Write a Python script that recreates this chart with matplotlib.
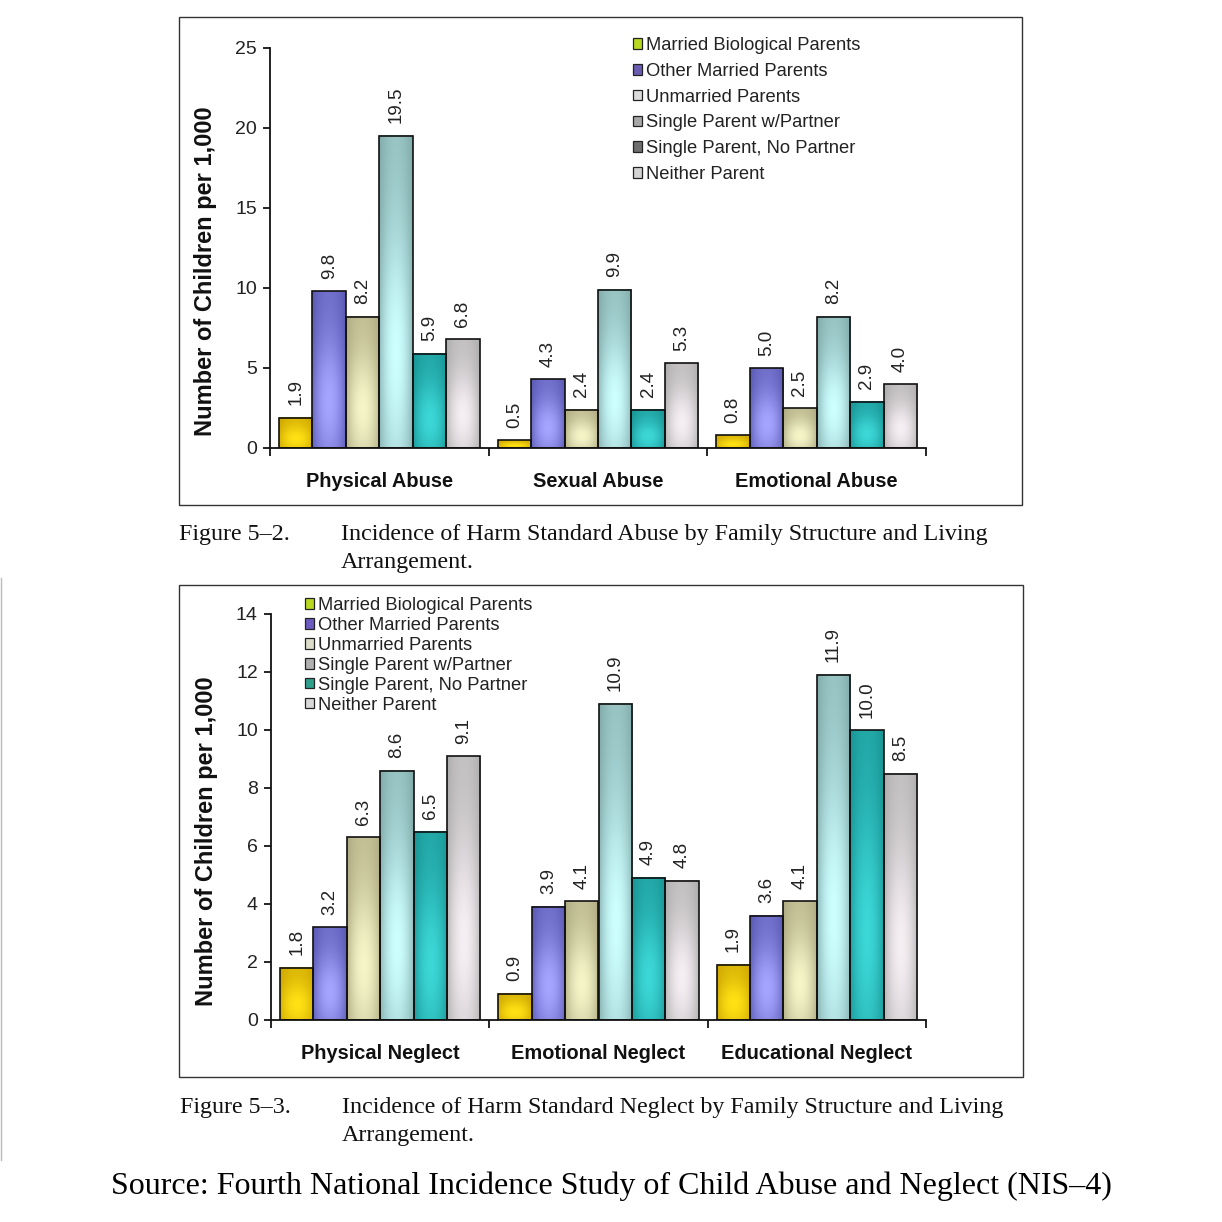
import numpy as np
import matplotlib
matplotlib.use("Agg")
import matplotlib.pyplot as plt
from matplotlib.patches import Rectangle, Patch
from matplotlib.lines import Line2D

# ---- data ----
series = ['Married Biological Parents', 'Other Married Parents', 'Unmarried Parents',
          'Single Parent w/Partner', 'Single Parent, No Partner', 'Neither Parent']

abuse_groups = ['Physical Abuse', 'Sexual Abuse', 'Emotional Abuse']
abuse_mbp = [1.9, 0.5, 0.8]
abuse_omp = [9.8, 4.3, 5.0]
abuse_up = [8.2, 2.4, 2.5]
abuse_spwp = [19.5, 9.9, 8.2]
abuse_spnp = [5.9, 2.4, 2.9]
abuse_np = [6.8, 5.3, 4.0]

neglect_groups = ['Physical Neglect', 'Emotional Neglect', 'Educational Neglect']
neglect_mbp = [1.8, 0.9, 1.9]
neglect_omp = [3.2, 3.9, 3.6]
neglect_up = [6.3, 4.1, 4.1]
neglect_spwp = [8.6, 10.9, 11.9]
neglect_spnp = [6.5, 4.9, 10.0]
neglect_np = [9.1, 4.8, 8.5]

# ---- styles ----
W = 1222.0
bar_dark = [(200, 160, 0), (80, 80, 170), (165, 160, 120),
            (120, 160, 160), (20, 140, 140), (165, 165, 165)]
bar_light = [(255, 225, 20), (165, 165, 255), (245, 245, 200),
             (205, 255, 255), (60, 215, 215), (245, 238, 242)]
legend_top_colors = ['#b8d820', '#6a5cb0', '#dcdcdc', '#a8a8a8', '#6e6e6e', '#d4d4d4']
legend_bot_colors = ['#b8d820', '#6a5cc0', '#dcdcc8', '#b0b0b0', '#2fa08c', '#d8d8d8']

SANS = 'Liberation Sans'
SERIF = 'Liberation Serif'


def px(x, y):
    return x / W, 1 - y / W


def shade_bar(ax, patch, dark, light):
    x0, y0 = patch.get_x(), patch.get_y()
    w, h = patch.get_width(), patch.get_height()
    xs = np.linspace(0, 1, 32)
    ys = np.linspace(0, 1, 64)
    hx = 1 - np.abs(2 * xs - 1) ** 2 * 0.7
    vy = 0.35 + 0.65 * np.exp(-((ys - 0.3) / 0.4) ** 2)
    t = np.outer(vy, hx)[..., None]
    d = np.array(dark) / 255.0
    l = np.array(light) / 255.0
    img = d + (l - d) * t
    ax.imshow(img, extent=(x0, x0 + w, y0, y0 + h), origin='lower', aspect='auto',
              zorder=2, clip_path=patch, interpolation='bilinear')


def draw_chart(ax, groups, data, ymax, ystep, legend_colors, legend_anchor, labelspacing, ylab_y):
    bw = 0.153
    x = np.arange(len(groups)) + 0.5
    for i, vals in enumerate(data):
        pos = x + (i - 2.5) * bw
        bars = ax.bar(pos, vals, width=bw, color=np.array(bar_dark[i]) / 255.0, zorder=1)
        for b in bars:
            shade_bar(ax, b, bar_dark[i], bar_light[i])
        ax.bar(pos, vals, width=bw, fill=False, edgecolor='#111111', linewidth=1.2, zorder=3)
        for p, v in zip(pos, vals):
            ax.annotate(f'{v:.1f}', xy=(p, v), xytext=(0, 9), textcoords='offset points',
                        rotation=90, ha='center', va='bottom', fontsize=13.5,
                        family=SANS, color='#222222')

    ax.set_xlim(0, len(groups))
    ax.set_ylim(0, ymax)
    ax.set_yticks(np.arange(0, ymax + 0.1, ystep))
    ax.set_xticks(np.arange(0, len(groups) + 1))
    ax.set_xticklabels([])
    ax.set_xticks(x, groups, minor=True)
    ax.tick_params(axis='x', which='minor', length=0, pad=17)
    ax.tick_params(axis='x', which='major', direction='out', length=6, width=1.2)
    ax.tick_params(axis='y', direction='out', length=5, width=1.2, pad=4.5,
                   labelsize=14, labelcolor='#222222')
    for lab in ax.get_xticklabels(minor=True):
        lab.set_fontsize(14.4)
        lab.set_fontweight('bold')
        lab.set_family(SANS)
        lab.set_color('#111111')
    for lab in ax.get_yticklabels():
        lab.set_family(SANS)
    for s in ['top', 'right']:
        ax.spines[s].set_visible(False)
    for s in ['left', 'bottom']:
        ax.spines[s].set_linewidth(1.3)
        ax.spines[s].set_color('#111111')
    ax.set_facecolor('white')

    ax.set_ylabel('Number of Children per 1,000', fontsize=17, fontweight='bold',
                  family=SANS, color='#111111')
    ax.yaxis.set_label_coords(-0.081, ylab_y)

    handles = [Patch(facecolor=c, edgecolor='#222222', linewidth=0.9) for c in legend_colors]
    ax.figure.legend(handles, series, loc='upper left', bbox_to_anchor=legend_anchor,
                     bbox_transform=ax.figure.transFigure, frameon=False,
                     prop={'family': SANS, 'size': 13.2}, handlelength=0.5, handleheight=0.5,
                     handletextpad=0.2, labelspacing=labelspacing, borderpad=0,
                     borderaxespad=0, labelcolor='#222222')


fig = plt.figure(figsize=(12.22, 12.22), dpi=100)
fig.patch.set_facecolor('white')

# boxes around the two charts
for (x0, y0, x1, y1) in [(179, 17, 1022, 505), (179, 585, 1023, 1077)]:
    fx, fy = px(x0, y1)
    fig.add_artist(Rectangle((fx, fy), (x1 - x0) / W, (y1 - y0) / W, transform=fig.transFigure,
                             fill=False, edgecolor='#333333', linewidth=1.0))
fig.add_artist(Line2D([1 / W, 1 / W], [1 - 578 / W, 1 - 1160 / W], transform=fig.transFigure,
                      color='#bbbbbb', linewidth=1.0))

ax1 = fig.add_axes([270 / W, 1 - 448 / W, 656 / W, 400 / W])
draw_chart(ax1, abuse_groups,
           [abuse_mbp, abuse_omp, abuse_up, abuse_spwp, abuse_spnp, abuse_np],
           25, 5, legend_top_colors, px(633, 37), 0.48, 0.4425)

ax2 = fig.add_axes([271 / W, 1 - 1020 / W, 655 / W, 406 / W])
draw_chart(ax2, neglect_groups,
           [neglect_mbp, neglect_omp, neglect_up, neglect_spwp, neglect_spnp, neglect_np],
           14, 2, legend_bot_colors, px(305, 597), 0.16, 0.441)

# captions
cap = dict(family=SERIF, fontsize=17.3, color='#111111', va='center', ha='left')
fig.text(*px(179, 534), 'Figure 5\u20132.', **cap)
fig.text(*px(341, 534), 'Incidence of Harm Standard Abuse by Family Structure and Living', **cap)
fig.text(*px(341, 562), 'Arrangement.', **cap)
fig.text(*px(180, 1107), 'Figure 5\u20133.', **cap)
fig.text(*px(342, 1107), 'Incidence of Harm Standard Neglect by Family Structure and Living', **cap)
fig.text(*px(342, 1135), 'Arrangement.', **cap)

fig.text(*px(611, 1186), 'Source: Fourth National Incidence Study of Child Abuse and Neglect (NIS\u20134)',
         family=SERIF, fontsize=23, color='#000000', ha='center', va='center')

fig.savefig('out.png', dpi=100, facecolor='white')
